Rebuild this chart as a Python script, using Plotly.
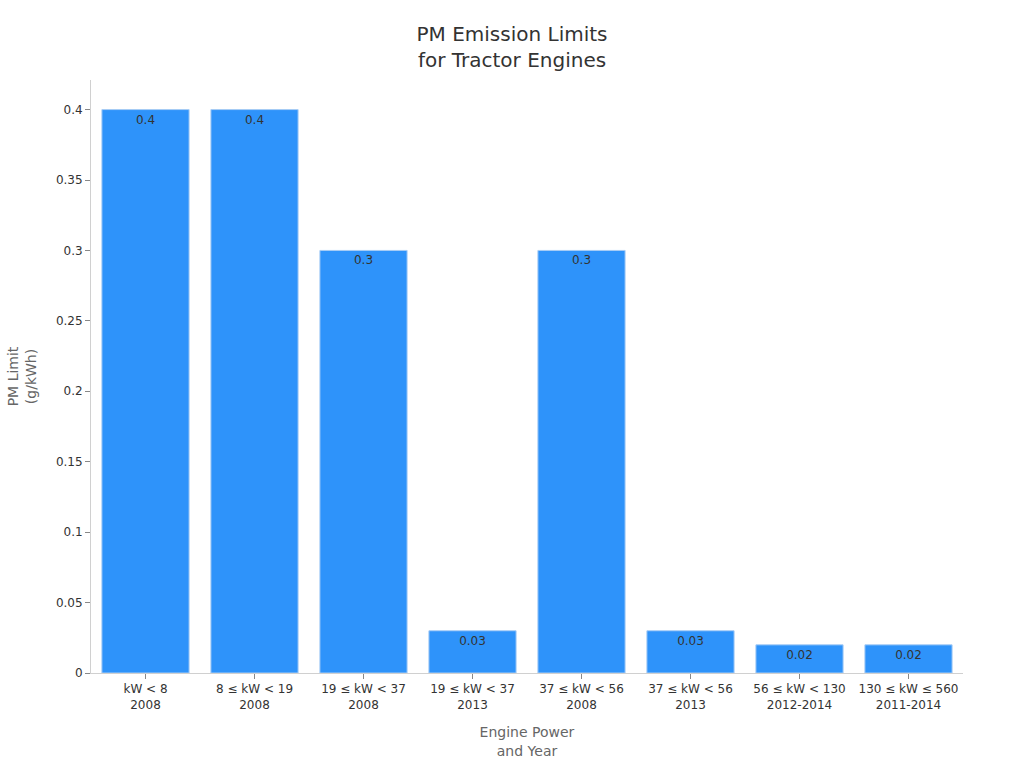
import plotly.graph_objects as go

categories = [
    "kW < 8<br>2008",
    "8 ≤ kW < 19<br>2008",
    "19 ≤ kW < 37<br>2008",
    "19 ≤ kW < 37<br>2013",
    "37 ≤ kW < 56<br>2008",
    "37 ≤ kW < 56<br>2013",
    "56 ≤ kW < 130<br>2012-2014",
    "130 ≤ kW ≤ 560<br>2011-2014",
]
pm_limits = [0.4, 0.4, 0.3, 0.03, 0.3, 0.03, 0.02, 0.02]
value_labels = ["0.4", "0.4", "0.3", "0.03", "0.3", "0.03", "0.02", "0.02"]

fig = go.Figure(
    go.Bar(
        x=categories,
        y=pm_limits,
        text=value_labels,
        textposition="inside",
        insidetextanchor="end",
        textfont=dict(color="#333333", size=12),
        marker=dict(color="#2E93FA", line=dict(color="#a8cdf5", width=1)),
        cliponaxis=False,
    )
)

fig.update_layout(
    width=1024,
    height=768,
    font=dict(family="DejaVu Sans", size=12, color="#333333"),
    paper_bgcolor="white",
    plot_bgcolor="white",
    title=dict(
        text="PM Emission Limits<br>for Tractor Engines",
        x=0.5,
        xanchor="center",
        y=0.947,
        yanchor="top",
        font=dict(size=20, color="#333333"),
    ),
    margin=dict(l=91, r=61, t=80, b=95),
    bargap=0.2,
    showlegend=False,
    xaxis=dict(
        title=dict(text="Engine Power<br>and Year", font=dict(size=14, color="#666666"), standoff=16),
        showline=True,
        linecolor="#d0d0d0",
        ticks="outside",
        ticklen=5,
        tickcolor="#888888",
        tickfont=dict(size=12, color="#333333"),
        showgrid=False,
    ),
    yaxis=dict(
        title=dict(text="PM Limit<br>(g/kWh)", font=dict(size=14, color="#666666"), standoff=15),
        range=[0, 0.421],
        tickvals=[0, 0.05, 0.1, 0.15, 0.2, 0.25, 0.3, 0.35, 0.4],
        ticktext=["0", "0.05", "0.1", "0.15", "0.2", "0.25", "0.3", "0.35", "0.4"],
        showline=True,
        linecolor="#d0d0d0",
        ticks="outside",
        ticklen=5,
        tickcolor="#888888",
        tickfont=dict(size=12, color="#333333"),
        showgrid=False,
        zeroline=False,
    ),
)

fig.write_html("out.html")
